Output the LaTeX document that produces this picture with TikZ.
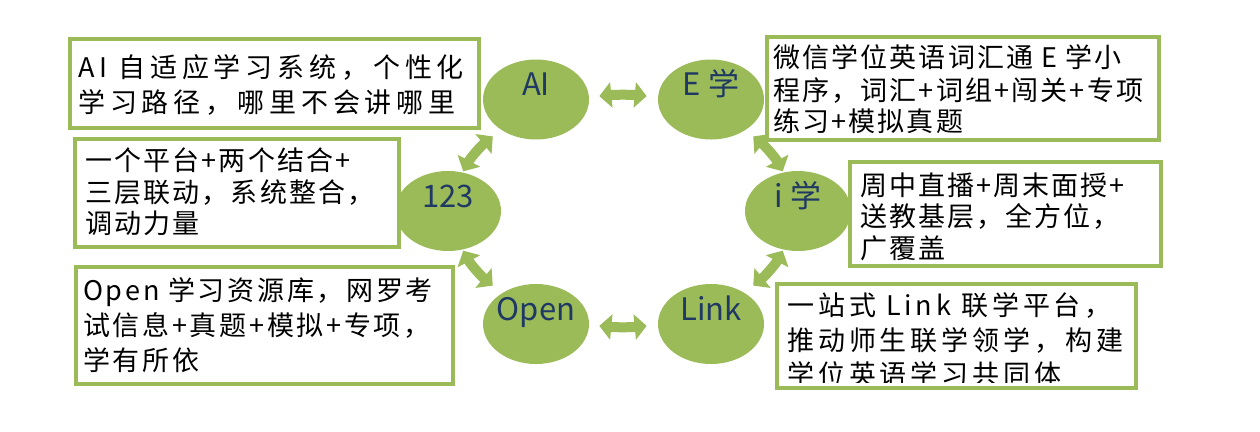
\documentclass[tikz,border=0pt]{standalone}
\usepackage{fontspec}
\usetikzlibrary{shapes.geometric,arrows.meta,calc}
\newfontfamily\boxfont{Noto Sans CJK SC}
\newfontfamily\labfont{Noto Sans CJK SC}
\definecolor{leaf}{RGB}{155,187,89}
\definecolor{navy}{RGB}{31,56,100}
\begin{document}
\begin{tikzpicture}[x=1pt,y=-1pt,
  blob/.style={ellipse, fill=leaf, minimum width=106pt, minimum height=80pt, inner sep=0pt},
  lab/.style={font=\labfont\fontsize{31}{31}\selectfont, text=navy, anchor=base, inner sep=0pt},
  frame/.style={draw=leaf, line width=4pt, fill=white, anchor=north west, outer sep=0pt, inner sep=0pt},
  ln/.style={font=\boxfont\fontsize{27}{27}\selectfont\addfontfeatures{LetterSpace=#1}, anchor=base west, inner sep=0pt},
  ln/.default=9,
  cyc/.style={draw=leaf, line width=10pt, arrows={Triangle[width=25pt,length=12pt]-Triangle[width=25pt,length=12pt]}}]
\useasboundingbox (0,0) rectangle (1260,431);
% cycle ellipses
\node[blob] (ai) at (536,99.5) {};
\node[blob] (e) at (711,99.5) {};
\node[blob] (i) at (798,211) {};
\node[blob] (link) at (711,324) {};
\node[blob] (open) at (536,324) {};
\node[blob] (n123) at (448,211) {};
% cycle arrows
\coordinate (cc) at (623,211);
\draw[cyc] ($(cc)+(98:170pt and 116pt)$) arc[start angle=98, end angle=82, x radius=170pt, y radius=116pt];
\draw[cyc] ($(cc)+(40:170pt and 116pt)$) arc[start angle=40, end angle=20, x radius=170pt, y radius=116pt];
\draw[cyc] ($(cc)+(-20:170pt and 116pt)$) arc[start angle=-20, end angle=-40, x radius=170pt, y radius=116pt];
\draw[cyc] ($(cc)+(278:170pt and 116pt)$) arc[start angle=278, end angle=262, x radius=170pt, y radius=116pt];
\draw[cyc] ($(cc)+(220:170pt and 116pt)$) arc[start angle=220, end angle=200, x radius=170pt, y radius=116pt];
\draw[cyc] ($(cc)+(160:170pt and 116pt)$) arc[start angle=160, end angle=140, x radius=170pt, y radius=116pt];
% labels
\node[lab] (lai) at (536,95) {AI};
\node[lab] (le) at (711,95) {E 学};
\node[lab] (li) at (798,207) {i 学};
\node[lab] (llink) at (711,320) {Link};
\node[lab] (lopen) at (536,320) {Open};
\node[lab] (l123) at (448,207) {123};
% boxes
\node[frame, minimum width=409pt, minimum height=89pt] (b1) at (70,39) {};
\node[frame, minimum width=392pt, minimum height=103pt] (b2) at (767,37) {};
\node[frame, minimum width=324pt, minimum height=108pt] (b3) at (75,139) {};
\node[frame, minimum width=311pt, minimum height=104pt] (b4) at (850,162) {};
\node[frame, minimum width=377pt, minimum height=117pt] (b5) at (76,267) {};
\node[frame, minimum width=359pt, minimum height=104pt] (b6) at (777,284) {};
% box texts
\node[ln=18] (t1a) at (78,77) {AI 自适应学习系统，个性化};
\node[ln=18] (t1b) at (78,112) {学习路径，哪里不会讲哪里};
\node[ln=8] (t2a) at (773,67) {微信学位英语词汇通 E 学小};
\node[ln=8] (t2b) at (773,100) {程序，词汇+词组+闯关+专项};
\node[ln=8] (t2c) at (773,131) {练习+模拟真题};
\node[ln=8] (t3a) at (85,170) {一个平台+两个结合+};
\node[ln=8] (t3b) at (85,202) {三层联动，系统整合，};
\node[ln=8] (t3c) at (85,233) {调动力量};
\node[ln=7.5] (t4a) at (860,195) {周中直播+周末面授+};
\node[ln=7.5] (t4b) at (860,226) {送教基层，全方位，};
\node[ln=7.5] (t4c) at (860,258) {广覆盖};
\node[ln=10] (t5a) at (83,300) {Open 学习资源库，网罗考};
\node[ln=10] (t5b) at (83,335) {试信息+真题+模拟+专项，};
\node[ln=10] (t5c) at (83,370) {学有所依};
\node[ln=14.5] (t6a) at (787,315) {一站式 Link 联学平台，};
\node[ln=14.5] (t6b) at (787,350) {推动师生联学领学，构建};
\begin{scope}
\clip (779,286) rectangle (1136,382);
\node[ln=14.5] (t6c) at (787,384) {学位英语学习共同体};
\end{scope}
\end{tikzpicture}
\end{document}
